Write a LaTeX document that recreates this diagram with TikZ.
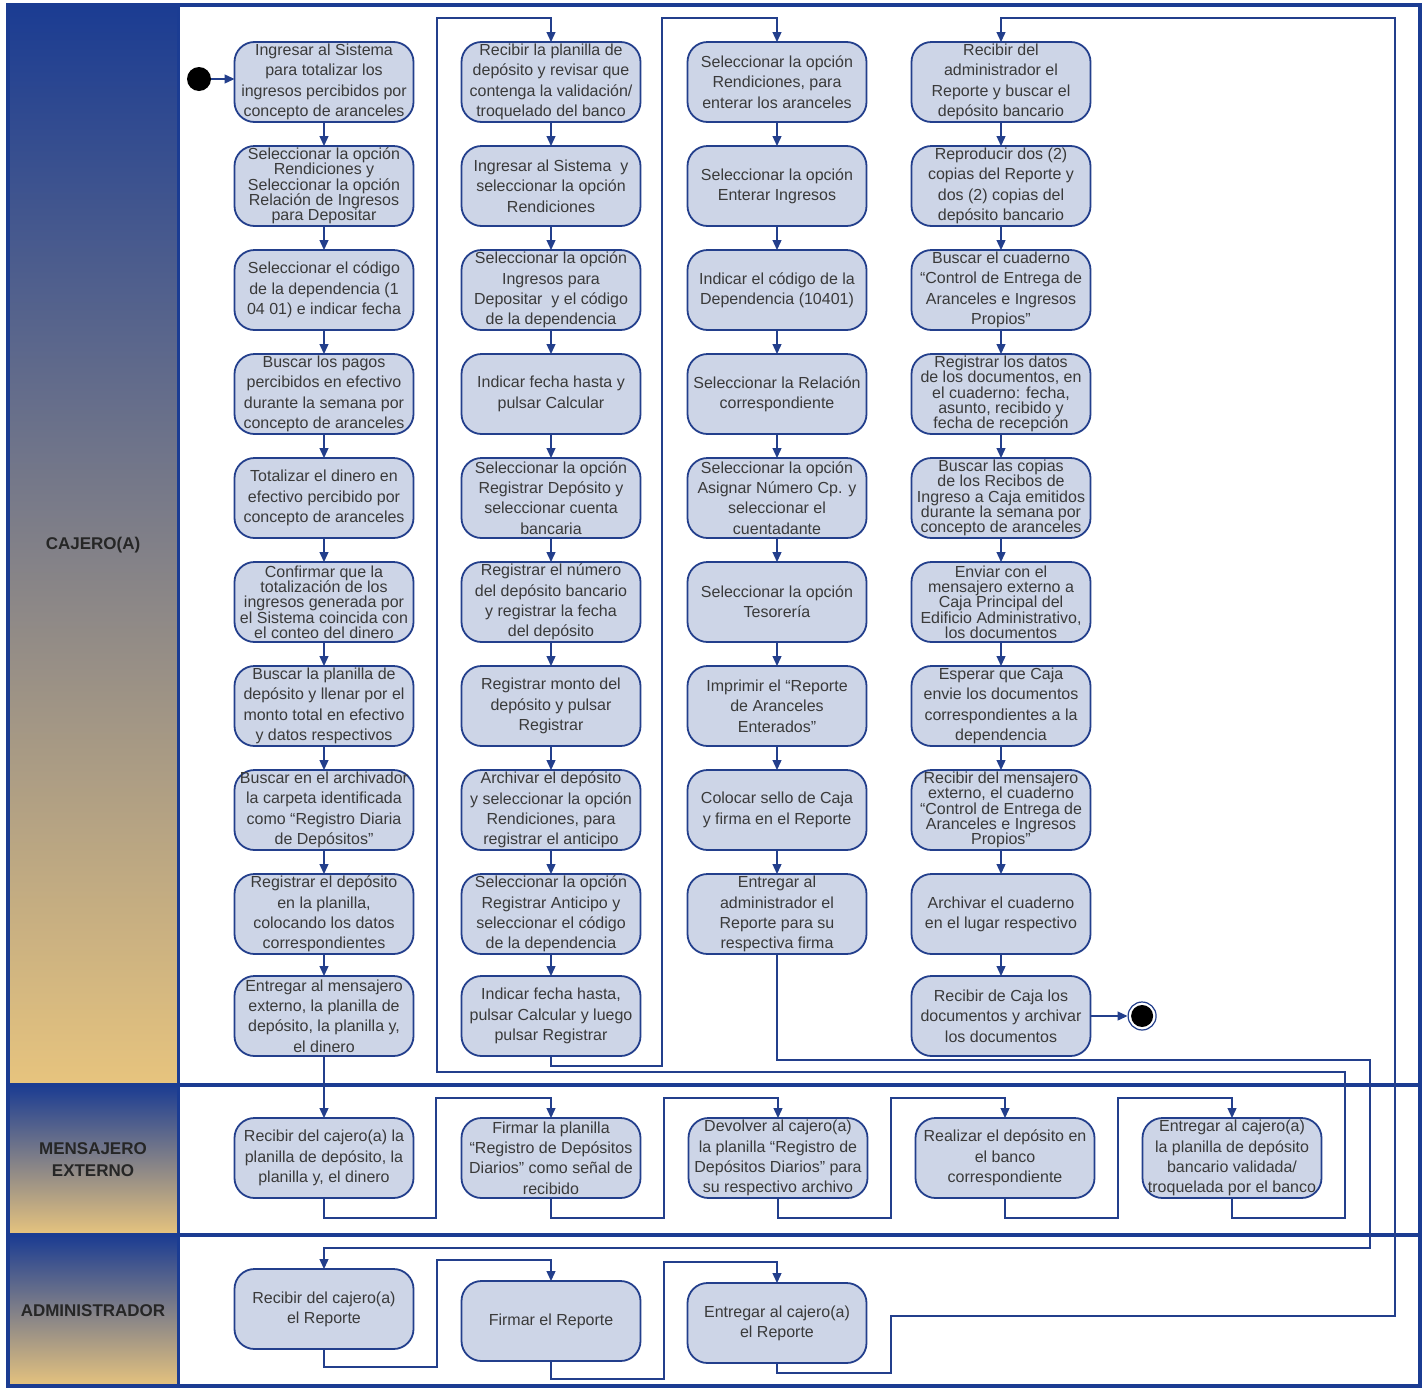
\documentclass[tikz,border=0pt]{standalone}
\usepackage{fontspec}
\setmainfont{Liberation Sans}
\usetikzlibrary{positioning,arrows.meta}
\definecolor{AzulMarco}{HTML}{1B3C92}
\definecolor{AzulLinea}{HTML}{233F8C}
\definecolor{CajaFondo}{HTML}{CDD5E7}
\definecolor{TextoGris}{HTML}{3A3A3A}
\definecolor{GrisMedio}{HTML}{8C8C90}
\definecolor{Arena}{HTML}{E7C47E}

\tikzset{
  actividad/.style={draw=AzulLinea, fill=CajaFondo, rectangle, rounded corners=20pt, line width=1.8pt, align=center, text=TextoGris, font=\fontsize{16}{20.3}\selectfont, minimum width=179pt, minimum height=80pt, inner sep=0pt, outer sep=0pt},
  apretada/.style={font=\fontsize{16}{15.3}\selectfont},
  carril/.style={top color=AzulMarco, middle color=GrisMedio, bottom color=Arena, minimum width=170pt, align=center, font=\fontsize{17}{22}\selectfont\bfseries, text=black!85, inner sep=0pt, outer sep=0pt},
  flujo/.style={draw=AzulLinea, line width=1.3pt, -{Triangle[length=10pt,width=9pt]}},
}

\begin{document}
\begin{tikzpicture}[x=1pt, y=-1pt]
  \useasboundingbox (0,0) rectangle (1424,1387);
  \fill [white] (0,0) rectangle (1424,1387);

  % Lanes
  \node [carril, minimum height=1080pt] (cajero) at (93,545) {CAJERO(A)};
  \node [carril, minimum height=150pt] (mensajero) at (93,1160) {MENSAJERO\\EXTERNO};
  \node [carril, minimum height=152pt] (admin) at (93,1311) {ADMINISTRADOR};
  \draw [AzulMarco, line width=3.5pt] (8,5) rectangle (1420,1386);
  \draw [AzulMarco, line width=3.5pt] (8,1085) -- (1420,1085);
  \draw [AzulMarco, line width=3.5pt] (8,1235) -- (1420,1235);
  \draw [AzulMarco, line width=3pt] (178,5) -- (178,1386);

  % Cajero(a), first column
  \node [circle, fill=black, minimum size=24pt, inner sep=0pt] (inicio) at (199,79) {};
  \node [actividad] (a1) at (324,82) {Ingresar al Sistema\\para totalizar los\\ingresos percibidos por\\concepto de aranceles};
  \node [actividad, apretada, below=24pt of a1] (a2) {Seleccionar la opción\\Rendiciones y\\Seleccionar la opción\\Relación de Ingresos\\para Depositar};
  \node [actividad, below=24pt of a2] (a3) {Seleccionar el código\\de la dependencia (1\\04 01) e indicar fecha};
  \node [actividad, below=24pt of a3] (a4) {Buscar los pagos\\percibidos en efectivo\\durante la semana por\\concepto de aranceles};
  \node [actividad, below=24pt of a4] (a5) {Totalizar el dinero en\\efectivo percibido por\\concepto de aranceles};
  \node [actividad, apretada, below=24pt of a5] (a6) {Confirmar que la\\totalización de los\\ingresos generada por\\el Sistema coincida con\\el conteo del dinero};
  \node [actividad, below=24pt of a6] (a7) {Buscar la planilla de\\depósito y llenar por el\\monto total en efectivo\\y datos respectivos};
  \node [actividad, below=24pt of a7] (a8) {Buscar en el archivador\\la carpeta identificada\\como “Registro Diaria\\de Depósitos”};
  \node [actividad, below=24pt of a8] (a9) {Registrar el depósito\\en la planilla,\\colocando los datos\\correspondientes};
  \node [actividad, below=22pt of a9] (a10) {Entregar al mensajero\\externo, la planilla de\\depósito, la planilla y,\\el dinero};

  % Cajero(a), second column
  \node [actividad] (b1) at (551,82) {Recibir la planilla de\\depósito y revisar que\\contenga la validación/\\troquelado del banco};
  \node [actividad, below=24pt of b1] (b2) {Ingresar al Sistema\ \ y\\seleccionar la opción\\Rendiciones};
  \node [actividad, below=24pt of b2] (b3) {Seleccionar la opción\\Ingresos para\\Depositar\ \ y el código\\de la dependencia};
  \node [actividad, below=24pt of b3] (b4) {Indicar fecha hasta y\\pulsar Calcular};
  \node [actividad, below=24pt of b4] (b5) {Seleccionar la opción\\Registrar Depósito y\\seleccionar cuenta\\bancaria};
  \node [actividad, below=24pt of b5] (b6) {Registrar el número\\del depósito bancario\\y registrar la fecha\\del depósito};
  \node [actividad, below=24pt of b6] (b7) {Registrar monto del\\depósito y pulsar\\Registrar};
  \node [actividad, below=24pt of b7] (b8) {Archivar el depósito\\y seleccionar la opción\\Rendiciones, para\\registrar el anticipo};
  \node [actividad, below=24pt of b8] (b9) {Seleccionar la opción\\Registrar Anticipo y\\seleccionar el código\\de la dependencia};
  \node [actividad, below=22pt of b9] (b10) {Indicar fecha hasta,\\pulsar Calcular y luego\\pulsar Registrar};

  % Cajero(a), third column
  \node [actividad] (c1) at (777,82) {Seleccionar la opción\\Rendiciones, para\\enterar los aranceles};
  \node [actividad, below=24pt of c1] (c2) {Seleccionar la opción\\Enterar Ingresos};
  \node [actividad, below=24pt of c2] (c3) {Indicar el código de la\\Dependencia (10401)};
  \node [actividad, below=24pt of c3] (c4) {Seleccionar la Relación\\correspondiente};
  \node [actividad, below=24pt of c4] (c5) {Seleccionar la opción\\Asignar Número Cp. y\\seleccionar el\\cuentadante};
  \node [actividad, below=24pt of c5] (c6) {Seleccionar la opción\\Tesorería};
  \node [actividad, below=24pt of c6] (c7) {Imprimir el “Reporte\\de Aranceles\\Enterados”};
  \node [actividad, below=24pt of c7] (c8) {Colocar sello de Caja\\y firma en el Reporte};
  \node [actividad, below=24pt of c8] (c9) {Entregar al\\administrador el\\Reporte para su\\respectiva firma};

  % Cajero(a), fourth column
  \node [actividad] (e1) at (1001,82) {Recibir del\\administrador el\\Reporte y buscar el\\depósito bancario};
  \node [actividad, below=24pt of e1] (e2) {Reproducir dos (2)\\copias del Reporte y\\dos (2) copias del\\depósito bancario};
  \node [actividad, below=24pt of e2] (e3) {Buscar el cuaderno\\“Control de Entrega de\\Aranceles e Ingresos\\Propios”};
  \node [actividad, apretada, below=24pt of e3] (e4) {Registrar los datos\\de los documentos, en\\el cuaderno: fecha,\\asunto, recibido y\\fecha de recepción};
  \node [actividad, apretada, below=24pt of e4] (e5) {Buscar las copias\\de los Recibos de\\Ingreso a Caja emitidos\\durante la semana por\\concepto de aranceles};
  \node [actividad, apretada, below=24pt of e5] (e6) {Enviar con el\\mensajero externo a\\Caja Principal del\\Edificio Administrativo,\\los documentos};
  \node [actividad, below=24pt of e6] (e7) {Esperar que Caja\\envie los documentos\\correspondientes a la\\dependencia};
  \node [actividad, apretada, below=24pt of e7] (e8) {Recibir del mensajero\\externo, el cuaderno\\“Control de Entrega de\\Aranceles e Ingresos\\Propios”};
  \node [actividad, below=24pt of e8] (e9) {Archivar el cuaderno\\en el lugar respectivo};
  \node [actividad, below=22pt of e9] (e10) {Recibir de Caja los\\documentos y archivar\\los documentos};
  \node [circle, draw=AzulLinea, line width=1.2pt, minimum size=28pt, inner sep=0pt, right=37pt of e10,
    path picture={\fill [black] (path picture bounding box.center) circle (11pt);}] (fin) {};

  % Mensajero externo
  \node [actividad] (m1) at (324,1158) {Recibir del cajero(a) la\\planilla de depósito, la\\planilla y, el dinero};
  \node [actividad, right=48pt of m1] (m2) {Firmar la planilla\\“Registro de Depósitos\\Diarios” como señal de\\recibido};
  \node [actividad, right=48pt of m2] (m3) {Devolver al cajero(a)\\la planilla “Registro de\\Depósitos Diarios” para\\su respectivo archivo};
  \node [actividad, right=48pt of m3] (m4) {Realizar el depósito en\\el banco\\correspondiente};
  \node [actividad, right=48pt of m4] (m5) {Entregar al cajero(a)\\la planilla de depósito\\bancario validada/\\troquelada por el banco};

  % Administrador
  \node [actividad] (d1) at (324,1309) {Recibir del cajero(a)\\el Reporte};
  \node [actividad] (d2) at (551,1321) {Firmar el Reporte};
  \node [actividad] (d3) at (777,1323) {Entregar al cajero(a)\\el Reporte};

  % Arrows
  \draw [flujo] (inicio.east) -- (inicio.east -| a1.west);
  \draw [flujo] (a1) -- (a2); \draw [flujo] (a2) -- (a3); \draw [flujo] (a3) -- (a4);
  \draw [flujo] (a4) -- (a5); \draw [flujo] (a5) -- (a6); \draw [flujo] (a6) -- (a7);
  \draw [flujo] (a7) -- (a8); \draw [flujo] (a8) -- (a9); \draw [flujo] (a9) -- (a10);
  \draw [flujo] (b1) -- (b2); \draw [flujo] (b2) -- (b3); \draw [flujo] (b3) -- (b4);
  \draw [flujo] (b4) -- (b5); \draw [flujo] (b5) -- (b6); \draw [flujo] (b6) -- (b7);
  \draw [flujo] (b7) -- (b8); \draw [flujo] (b8) -- (b9); \draw [flujo] (b9) -- (b10);
  \draw [flujo] (c1) -- (c2); \draw [flujo] (c2) -- (c3); \draw [flujo] (c3) -- (c4);
  \draw [flujo] (c4) -- (c5); \draw [flujo] (c5) -- (c6); \draw [flujo] (c6) -- (c7);
  \draw [flujo] (c7) -- (c8); \draw [flujo] (c8) -- (c9);
  \draw [flujo] (e1) -- (e2); \draw [flujo] (e2) -- (e3); \draw [flujo] (e3) -- (e4);
  \draw [flujo] (e4) -- (e5); \draw [flujo] (e5) -- (e6); \draw [flujo] (e6) -- (e7);
  \draw [flujo] (e7) -- (e8); \draw [flujo] (e8) -- (e9); \draw [flujo] (e9) -- (e10);
  \draw [flujo] (e10) -- (fin);

  \draw [flujo] (a10) -- (m1);
  \draw [flujo] (m1.south) -- ++(0,20) -| (436,1098) -| (m2.north);
  \draw [flujo] (m2.south) -- ++(0,20) -| (664,1098) -| (m3.north);
  \draw [flujo] (m3.south) -- ++(0,20) -| (891,1098) -| (m4.north);
  \draw [flujo] (m4.south) -- ++(0,20) -| (1118,1098) -| (m5.north);
  \draw [flujo] (m5.south) -- ++(0,20) -| (1345,1072) -| (437,18) -| (b1.north);
  \draw [flujo] (b10.south) -- ++(0,10) -| (662,18) -| (c1.north);
  \draw [flujo] (c9.south) |- (1370,1060) -- (1370,1248) -| (d1.north);
  \draw [flujo] (d1.south) -- ++(0,18) -| (437,1260) -| (d2.north);
  \draw [flujo] (d2.south) -- ++(0,18) -| (664,1262) -| (d3.north);
  \draw [flujo] (d3.south) -- ++(0,10) -| (891,1316) -| (1395,18) -| (e1.north);
\end{tikzpicture}
\end{document}
